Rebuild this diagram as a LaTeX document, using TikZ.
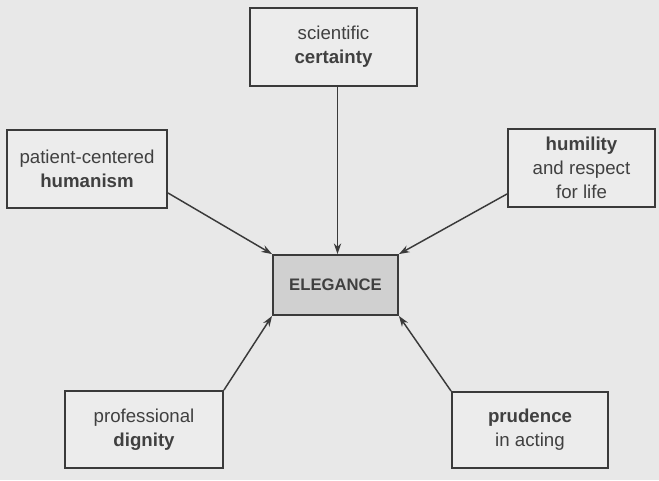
\documentclass[tikz,border=0pt]{standalone}
\usepackage{fontspec}
\setmainfont{Liberation Sans}
\usetikzlibrary{arrows.meta,calc}
\definecolor{bg}{HTML}{E8E8E8}
\definecolor{boxfill}{HTML}{ECECEC}
\definecolor{midfill}{HTML}{D0D0D0}
\definecolor{ink}{HTML}{3A3A3A}
\definecolor{txt}{HTML}{404040}
\begin{document}
\begin{tikzpicture}[x=0.75pt,y=-0.75pt,
  conceptbox/.style={draw=ink,line width=1.4pt,fill=boxfill,text=txt,align=center,
    font=\fontsize{14}{18}\selectfont,inner sep=0pt},
  centerbox/.style={draw=ink,line width=1.4pt,fill=midfill,text=txt,align=center,
    font=\fontsize{12.5}{15}\selectfont\bfseries,inner sep=0pt},
  link/.style={draw=ink,line width=1.1pt,-{Stealth[length=8pt,width=5.5pt]}}]
\useasboundingbox (0,0) rectangle (659,480);
\fill[bg] (0,0) rectangle (659,480);
\node[conceptbox,minimum width={167*0.75pt},minimum height={78*0.75pt}] (top) at (333.5,47) {scientific\\\textbf{certainty}};
\node[conceptbox,minimum width={160*0.75pt},minimum height={78*0.75pt}] (lft) at (87,169) {patient-centered\\\textbf{humanism}};
\node[conceptbox,minimum width={147*0.75pt},minimum height={78*0.75pt}] (rgt) at (581.5,168) {\textbf{humility}\\and respect\\for life};
\node[centerbox,minimum width={125*0.75pt},minimum height={60*0.75pt}] (mid) at (335.5,285) {ELEGANCE};
\node[conceptbox,minimum width={158*0.75pt},minimum height={77*0.75pt}] (bl) at (144,429.5) {professional\\\textbf{dignity}};
\node[conceptbox,minimum width={156*0.75pt},minimum height={76*0.75pt}] (br) at (530,430) {\textbf{prudence}\\in acting};
\draw[link] ($(top.south -| mid.north)+(2,0)$) -- ($(mid.north)+(2,0)$);
\draw[link] ($(lft.south east)+(0,-16)$) -- (mid.north west);
\draw[link] ($(rgt.south west)+(0,-14)$) -- (mid.north east);
\draw[link] (bl.north east) -- (mid.south west);
\draw[link] (br.north west) -- (mid.south east);
\end{tikzpicture}
\end{document}
